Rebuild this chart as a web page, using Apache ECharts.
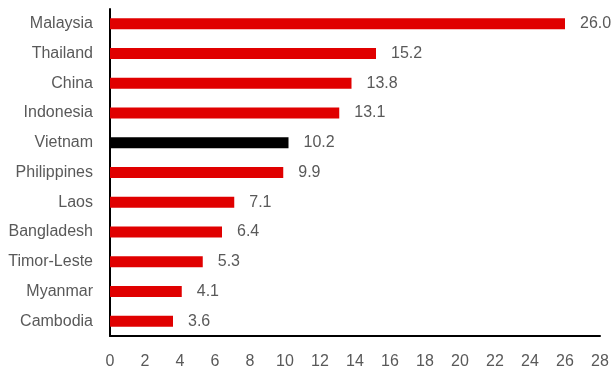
<!DOCTYPE html>
<html><head><meta charset="utf-8">
<script src="https://cdn.jsdelivr.net/npm/echarts@6/dist/echarts.min.js"></script>
<style>html,body{margin:0;padding:0;background:#fff}#c{width:615px;height:383px}</style>
</head><body><div id="c"></div>
<script>
const categories = ["Malaysia","Thailand","China","Indonesia","Vietnam","Philippines","Laos","Bangladesh","Timor-Leste","Myanmar","Cambodia"];
const values = [26.0,15.2,13.8,13.1,10.2,9.9,7.1,6.4,5.3,4.1,3.6];
const highlight = "Vietnam";
const xTicks = {min:0,max:28,interval:2};

const chart = echarts.init(document.getElementById('c'), null, {renderer:'canvas'});
const font = "'Liberation Sans', Arial, sans-serif";
chart.setOption({
  animation:false,
  grid:{left:110,right:15,top:9,bottom:47,containLabel:false,outerBoundsMode:'none'},
  xAxis:{type:'value',min:xTicks.min,max:xTicks.max,interval:xTicks.interval,
    axisLine:{show:true,lineStyle:{color:'#000',width:2}},
    axisTick:{show:false},splitLine:{show:false},
    axisLabel:{color:'#595959',fontSize:16,fontFamily:font,margin:18}},
  yAxis:{type:'category',data:categories.slice().reverse(),
    axisLine:{show:true,lineStyle:{color:'#000',width:2}},
    axisTick:{show:false},
    axisLabel:{color:'#595959',fontSize:16,fontFamily:font,margin:17}},
  series:[{type:'bar',barWidth:11,
    data:categories.map((c,i)=>({value:values[i],itemStyle:{color:c===highlight?'#000':'#e00000'}})).reverse(),
    label:{show:true,position:'right',distance:15,color:'#595959',fontSize:16,fontFamily:font,
      formatter:p=>p.value.toFixed(1)}}]
});
</script></body></html>
